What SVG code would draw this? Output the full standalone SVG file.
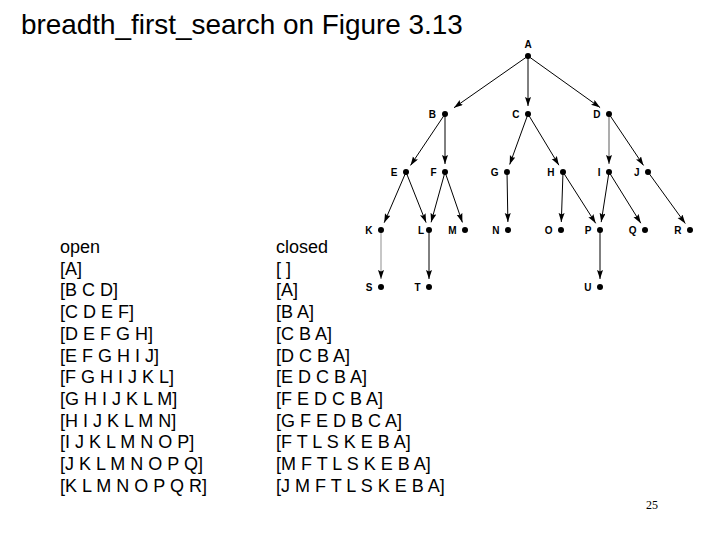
<svg xmlns="http://www.w3.org/2000/svg" width="720" height="540" viewBox="0 0 720 540">
<style>
.title{font-family:"Liberation Sans",Arial,sans-serif;font-size:27.9px;fill:#000}
.col{font-family:"Liberation Sans",Arial,sans-serif;font-size:18px;fill:#000}
.lbl{font-family:"Liberation Sans",Arial,sans-serif;font-size:10px;font-weight:bold;fill:#000;text-anchor:end}
.dot{fill:#000}
.e{stroke:#000;stroke-width:1;fill:none;marker-end:url(#ah)}
.g{stroke:#999;stroke-width:1.6;fill:none;marker-end:url(#ah)}
.pg{font-family:"Liberation Serif","Times New Roman",serif;font-size:12px;fill:#000;text-anchor:middle}
</style>
<defs>
<marker id="ah" markerUnits="userSpaceOnUse" markerWidth="10" markerHeight="7" refX="9" refY="3" orient="auto">
<path d="M0,0 L9,3 L0,6 L1.5,3 z" fill="#000"/>
</marker>
</defs>
<rect width="720" height="540" fill="#fff"/>
<text class="title" x="21" y="34">breadth_first_search on Figure 3.13</text>

<g id="open-list" class="col">
<text x="60" y="253">open</text>
<text x="60" y="274.7">[A]</text>
<text x="60" y="296.4">[B C D]</text>
<text x="60" y="318.1">[C D E F]</text>
<text x="60" y="339.8">[D E F G H]</text>
<text x="60" y="361.5">[E F G H I J]</text>
<text x="60" y="383.2">[F G H I J K L]</text>
<text x="60" y="404.9">[G H I J K L M]</text>
<text x="60" y="426.6">[H I J K L M N]</text>
<text x="60" y="448.3">[I J K L M N O P]</text>
<text x="60" y="470">[J K L M N O P Q]</text>
<text x="60" y="491.7">[K L M N O P Q R]</text>
</g>
<g id="closed-list" class="col">
<text x="276" y="253">closed</text>
<text x="276" y="274.7">[ ]</text>
<text x="276" y="296.4">[A]</text>
<text x="276" y="318.1">[B A]</text>
<text x="276" y="339.8">[C B A]</text>
<text x="276" y="361.5">[D C B A]</text>
<text x="276" y="383.2">[E D C B A]</text>
<text x="276" y="404.9">[F E D C B A]</text>
<text x="276" y="426.6">[G F E D B C A]</text>
<text x="276" y="448.3">[F T L S K E B A]</text>
<text x="276" y="470">[M F T L S K E B A]</text>
<text x="276" y="491.7">[J M F T L S K E B A]</text>
</g>

<g id="connectors">
<line class="e" x1="528" y1="56" x2="454" y2="107.7"/>
<line class="e" x1="528" y1="56" x2="528" y2="106"/>
<line class="e" x1="528" y1="56" x2="600.1" y2="107.6"/>
<line class="e" x1="445" y1="114" x2="410.5" y2="165.4"/>
<line class="e" x1="445" y1="114" x2="445" y2="164"/>
<line class="e" x1="528" y1="114" x2="509.7" y2="164.5"/>
<line class="e" x1="528" y1="114" x2="558.9" y2="165.2"/>
<line class="g" x1="609" y1="114" x2="609" y2="164"/>
<line class="e" x1="609" y1="114" x2="643.5" y2="165.4"/>
<line class="e" x1="406" y1="172" x2="384.2" y2="222.7"/>
<line class="e" x1="406" y1="172" x2="426.1" y2="222.6"/>
<line class="e" x1="445" y1="172" x2="431.1" y2="222.3"/>
<line class="e" x1="445" y1="172" x2="462.4" y2="222.4"/>
<line class="e" x1="507" y1="172" x2="507.9" y2="222"/>
<line class="e" x1="563" y1="172" x2="561.3" y2="222"/>
<line class="e" x1="563" y1="172" x2="595.7" y2="223.3"/>
<line class="e" x1="609" y1="172" x2="601.2" y2="222.1"/>
<line class="e" x1="609" y1="172" x2="640.8" y2="223.2"/>
<line class="e" x1="648" y1="172" x2="685.3" y2="223.5"/>
<line class="g" x1="381" y1="230" x2="381" y2="279" style="stroke-width:1.1"/>
<line class="e" x1="429" y1="230" x2="429" y2="279"/>
<line class="e" x1="600" y1="230" x2="600" y2="279"/>
</g>

<g id="A"><circle class="dot" cx="528" cy="56" r="3"/><text class="lbl" x="528" y="48" style="text-anchor:middle">A</text></g>
<g id="B"><circle class="dot" cx="445" cy="114" r="3"/><text class="lbl" x="436" y="117.5">B</text></g>
<g id="C"><circle class="dot" cx="528" cy="114" r="3"/><text class="lbl" x="519.5" y="117.5">C</text></g>
<g id="D"><circle class="dot" cx="609" cy="114" r="3"/><text class="lbl" x="600.5" y="117.5">D</text></g>
<g id="E"><circle class="dot" cx="406" cy="172" r="3"/><text class="lbl" x="397.5" y="175.5">E</text></g>
<g id="F"><circle class="dot" cx="445" cy="172" r="3"/><text class="lbl" x="436.5" y="175.5">F</text></g>
<g id="G"><circle class="dot" cx="507" cy="172" r="3"/><text class="lbl" x="498.5" y="175.5">G</text></g>
<g id="H"><circle class="dot" cx="563" cy="172" r="3"/><text class="lbl" x="554.5" y="175.5">H</text></g>
<g id="I"><circle class="dot" cx="609" cy="172" r="3"/><text class="lbl" x="600.5" y="175.5">I</text></g>
<g id="J"><circle class="dot" cx="648" cy="172" r="3"/><text class="lbl" x="639.5" y="175.5">J</text></g>
<g id="K"><circle class="dot" cx="381" cy="230" r="3"/><text class="lbl" x="372.5" y="233.5">K</text></g>
<g id="L"><circle class="dot" cx="429" cy="230" r="3"/><text class="lbl" x="424" y="233.5">L</text></g>
<g id="M"><circle class="dot" cx="465" cy="230" r="3"/><text class="lbl" x="456.5" y="233.5">M</text></g>
<g id="N"><circle class="dot" cx="508" cy="230" r="3"/><text class="lbl" x="499.5" y="233.5">N</text></g>
<g id="O"><circle class="dot" cx="561" cy="230" r="3"/><text class="lbl" x="552.5" y="233.5">O</text></g>
<g id="P"><circle class="dot" cx="600" cy="230" r="3"/><text class="lbl" x="591.5" y="233.5">P</text></g>
<g id="Q"><circle class="dot" cx="645" cy="230" r="3"/><text class="lbl" x="636.5" y="233.5">Q</text></g>
<g id="R"><circle class="dot" cx="690" cy="230" r="3"/><text class="lbl" x="681.5" y="233.5">R</text></g>
<g id="S"><circle class="dot" cx="381" cy="287" r="3"/><text class="lbl" x="372.5" y="290.5">S</text></g>
<g id="T"><circle class="dot" cx="429" cy="287" r="3"/><text class="lbl" x="420.5" y="290.5">T</text></g>
<g id="U"><circle class="dot" cx="600" cy="287" r="3"/><text class="lbl" x="591.5" y="290.5">U</text></g>

<text class="pg" x="652" y="509">25</text>
</svg>
